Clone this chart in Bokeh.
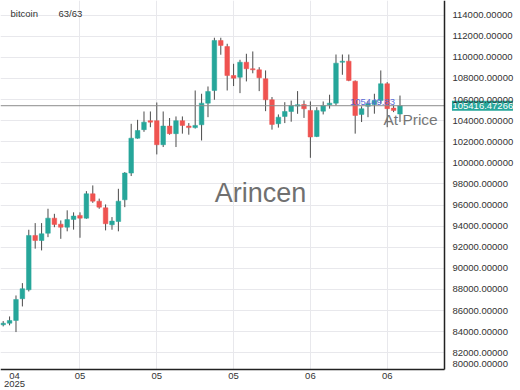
import pandas as pd
from bokeh.plotting import figure
from bokeh.models import ColumnDataSource, FixedTicker, Label, Range1d, BoxAnnotation
from bokeh.core.properties import value
from bokeh.embed import file_html
from bokeh.resources import INLINE

series_name = "bitcoin"
count_text = "63/63"
dates = [d.strftime("%Y-%m-%d") for d in pd.date_range("2025-04-19", periods=63, freq="D")]

opens = [84650, 84800, 85060, 87120, 87970, 93120, 92640, 93330, 94760, 94190,
         93900, 94640, 95020, 94760, 97070, 96370, 95740, 94130, 94440, 96500,
         99030, 102340, 103150, 104000, 104000, 101720, 103490, 102770, 104000, 103490,
         103340, 103610, 105660, 106860, 111600, 111030, 108280, 108120, 109540, 108920,
         108820, 107970, 105980, 103710, 104400, 104870, 105380, 105530, 104970, 102500,
         104900, 105510, 105660, 109540, 109640, 107740, 104590, 105360, 105530, 105910,
         107500, 105190, 104630]
highs = [85000, 85440, 87430, 88600, 93660, 94290, 94290, 95650, 95170, 94540,
         95500, 95310, 95310, 97320, 97860, 96610, 96060, 94860, 97540, 99130,
         103700, 104080, 104870, 104870, 105720, 104870, 104250, 104400, 104400, 103770,
         106860, 106550, 107240, 111860, 111860, 111290, 109390, 109770, 110340, 110560,
         109070, 108760, 106240, 104590, 105750, 105900, 106800, 105910, 105820, 105280,
         105820, 106460, 110270, 110270, 110270, 107810, 105360, 105850, 106550, 108760,
         107650, 105440, 106380]
lows = [84500, 84600, 83960, 86390, 87810, 91870, 91700, 92960, 93900, 92800,
        93510, 93670, 92900, 94700, 96210, 95650, 93600, 93660, 93510, 95800,
        98750, 102290, 102940, 103380, 100800, 101500, 102670, 101500, 102770, 102670,
        103250, 102120, 104330, 105980, 110250, 106860, 107280, 106610, 107720, 108490,
        106800, 104900, 103150, 103340, 103770, 103900, 104650, 104260, 100480, 102440,
        104590, 105140, 105440, 108350, 107740, 102770, 103870, 104330, 104660, 105600,
        103380, 104810, 103870]
closes = [84800, 85060, 87050, 88070, 93120, 92640, 93280, 94760, 94160, 93900,
          94620, 94960, 94760, 97070, 96370, 95800, 94230, 94480, 96370, 99030,
          102340, 103070, 103860, 103860, 101720, 103490, 102770, 104000, 103550, 103340,
          103550, 105660, 106770, 111600, 111130, 108280, 108030, 109540, 108920, 108820,
          108070, 105980, 103640, 104330, 104870, 105440, 105510, 105130, 102450, 104970,
          105440, 105660, 109450, 109640, 107810, 104490, 105130, 105600, 105910, 107500,
          105140, 104970, 105416.47266]

y_tick_values = [82000, 84000, 86000, 88000, 90000, 92000, 94000, 96000, 98000,
                 100000, 102000, 104000, 106000, 108000, 110000, 112000, 114000]
x_tick_index = [12, 24, 36, 48, 60]
x_tick_labels = ["05", "05", "05", "06", "06"]
first_month_label = "04"
first_year_label = "2025"
last_price = 105416.47266
marker_price = 105449.83
watermark_text = "Arincen"
note_text = "At Price"

UP = "#26a69a"
DOWN = "#ef5350"
WICK = "#4a4a4a"
FONT = "Liberation Sans"
LABEL_COLOR = "#333333"
GRID = "#e8e8ec"

idx = list(range(len(opens)))
up = dict(x=[], top=[], bottom=[])
dn = dict(x=[], top=[], bottom=[])
for i, o, c in zip(idx, opens, closes):
    d = up if c >= o else dn
    d["x"].append(i)
    d["top"].append(max(o, c))
    d["bottom"].append(min(o, c))
wick_src = ColumnDataSource(dict(x=idx, lo=lows, hi=highs))

# pane geometry (whole canvas is the frame; axes are pinned at the pane edges)
PX_PER_IDX = 6.4
x_start, x_end = -0.42, 80.83
x_edge = 68.95           # right edge of the price pane
y_start, y_end = 78422, 115390
y_edge = 80390           # bottom edge of the price pane

p = figure(width=520, height=390, x_range=Range1d(x_start, x_end), y_range=Range1d(y_start, y_end),
           output_backend="svg", toolbar_location=None, y_axis_location="right",
           min_border_left=0, min_border_top=0, min_border_right=0, min_border_bottom=0)
p.outline_line_color = None
p.background_fill_color = "white"
p.border_fill_color = "white"

# grid limited to the price pane
p.xgrid.ticker = FixedTicker(ticks=x_tick_index)
p.ygrid.ticker = FixedTicker(ticks=y_tick_values)
p.xgrid.grid_line_color = GRID
p.ygrid.grid_line_color = GRID
if "cross_bounds" in p.ygrid.properties():
    p.ygrid.cross_bounds = (x_start, x_edge)
    p.xgrid.cross_bounds = (y_edge, y_end)
else:
    p.add_layout(BoxAnnotation(left=x_edge, fill_color="white", fill_alpha=1.0,
                               line_color=None, level="underlay"))
    p.add_layout(BoxAnnotation(top=y_edge, fill_color="white", fill_alpha=1.0,
                               line_color=None, level="underlay"))

# candles
p.segment(x0="x", y0="lo", x1="x", y1="hi", source=wick_src, line_color=WICK, line_width=1)
p.vbar(x="x", top="top", bottom="bottom", width=0.72, source=ColumnDataSource(up),
       fill_color=UP, line_color=UP, line_width=0.5)
p.vbar(x="x", top="top", bottom="bottom", width=0.72, source=ColumnDataSource(dn),
       fill_color=DOWN, line_color=DOWN, line_width=0.5)

# last price line across the price pane
p.segment(x0=[x_start], y0=[last_price], x1=[x_edge], y1=[last_price],
          line_color="#8c8c8c", line_width=1)

# x axis
first_tick_pos = 1.77
xa = p.xaxis[0]
xa.fixed_location = y_edge
xa.bounds = (x_start, x_edge)
xa.ticker = FixedTicker(ticks=[first_tick_pos] + x_tick_index)
xo = {first_tick_pos: first_month_label}
for t, l in zip(x_tick_index, x_tick_labels):
    xo[t] = l
xa.major_label_overrides = xo
xa.major_tick_line_color = None
xa.minor_tick_line_color = None
xa.major_tick_out = 0
xa.major_tick_in = 0
xa.minor_tick_out = 0
xa.axis_line_color = "#222222"
xa.axis_line_width = 1.5
xa.major_label_standoff = 3
xa.major_label_text_font = FONT
xa.major_label_text_font_size = "9.5px"
xa.major_label_text_color = LABEL_COLOR

# y axis
bottom_label_pos = 80980
ya = p.yaxis[0]
ya.fixed_location = x_edge
ya.bounds = (y_edge, y_end)
ya.ticker = FixedTicker(ticks=[bottom_label_pos] + y_tick_values)
yo = {v: "%.5f" % v for v in y_tick_values}
yo[bottom_label_pos] = "80000.00000"
ya.major_label_overrides = yo
ya.major_tick_line_color = None
ya.minor_tick_line_color = None
ya.major_tick_out = 0
ya.major_tick_in = 0
ya.minor_tick_out = 0
ya.axis_line_color = "#222222"
ya.axis_line_width = 1.5
ya.major_label_standoff = 8
ya.major_label_text_font = FONT
ya.major_label_text_font_size = "9.5px"
ya.major_label_text_color = LABEL_COLOR

# year under first month
p.add_layout(Label(x=first_tick_pos, y=79040, text=first_year_label, text_align="center",
                   text_baseline="middle", text_font=FONT, text_font_size="9.5px",
                   text_color=LABEL_COLOR))

# legend texts
p.add_layout(Label(x=1.14, y=114205, text=series_name, text_align="left", text_baseline="middle",
                   text_font=FONT, text_font_size="9.5px", text_color=LABEL_COLOR))
p.add_layout(Label(x=8.64, y=114205, text=count_text, text_align="left", text_baseline="middle",
                   text_font=FONT, text_font_size="9.5px", text_color=LABEL_COLOR))

# watermark
p.add_layout(Label(x=40.2, y=97099, text=watermark_text, text_align="center",
                   text_baseline="middle", text_font=FONT, text_font_size="27px",
                   text_color="#707070"))

# marker price text
p.add_layout(Label(x=57.7, y=marker_price, text="%.2f" % marker_price, text_align="center",
                   text_baseline="bottom", text_font=FONT, text_font_size="9.5px",
                   text_color="#5b6bd8"))

# note text
p.add_layout(Label(x=59.42, y=104138, text=note_text, text_align="left",
                   text_baseline="middle", text_font=FONT, text_font_size="15.5px",
                   text_color="#777777"))

# last price tag on the price axis (box + text glyphs)
tag_left = x_edge + 8 / PX_PER_IDX
p.rect(x=[tag_left + 30 / PX_PER_IDX], y=[last_price], width=61, height=10,
       width_units="screen", height_units="screen", fill_color=UP, line_color=None)
p.text(x=[tag_left], y=[last_price], text=["%.5f" % last_price], text_align="left",
       text_baseline="middle", text_font=value(FONT), text_font_size="9.5px",
       text_color="white")

open("out.html", "w").write(file_html(p, INLINE))
